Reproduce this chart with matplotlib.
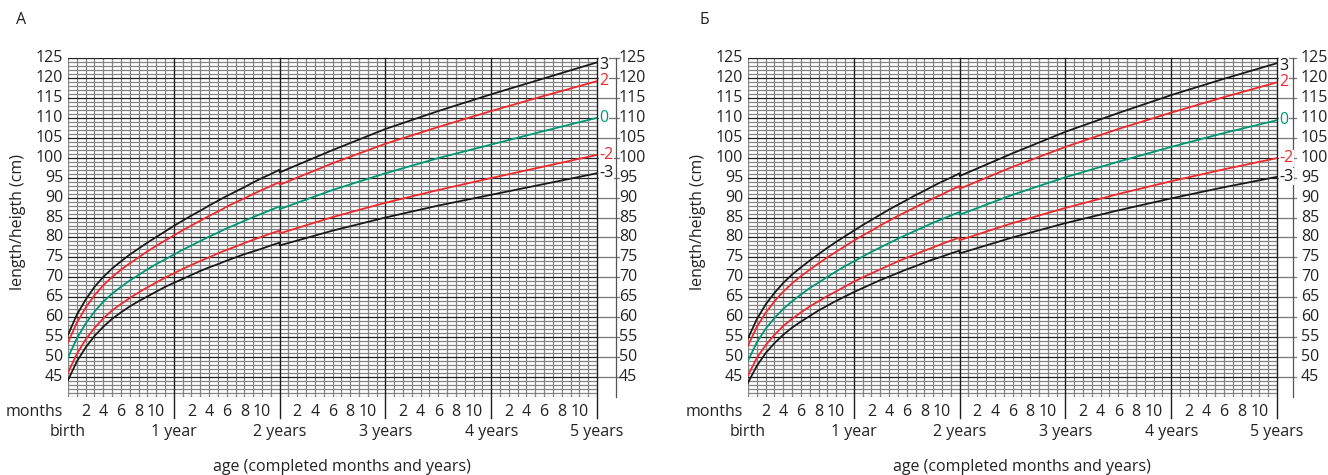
import matplotlib
matplotlib.use("Agg")
import matplotlib.pyplot as plt

# ages in months; 24 is repeated (length -> height switch)
ages = list(range(0, 25)) + [24, 30, 36, 42, 48, 54, 60]

# panel A (boys), z-score curves, cm
boys_p3 = [55.6, 60.6, 64.4, 67.6, 70.1, 72.2, 74.0, 75.7, 77.2, 78.7, 80.1, 81.5, 82.9,
           84.2, 85.5, 86.7, 88.0, 89.2, 90.4, 91.5, 92.6, 93.8, 94.9, 95.9, 97.0,
           96.3, 101.9, 107.2, 111.7, 115.9, 119.9, 123.9]
boys_p2 = [53.7, 58.6, 62.4, 65.5, 68.0, 70.1, 71.9, 73.5, 75.0, 76.5, 77.9, 79.2, 80.5,
           81.8, 83.0, 84.2, 85.4, 86.5, 87.7, 88.8, 89.8, 90.9, 91.9, 92.9, 93.9,
           93.2, 98.6, 103.5, 107.7, 111.7, 115.5, 119.2]
boys_0 = [49.9, 54.7, 58.4, 61.4, 63.9, 65.9, 67.6, 69.2, 70.6, 72.0, 73.3, 74.5, 75.7,
          76.9, 78.0, 79.1, 80.2, 81.2, 82.3, 83.2, 84.2, 85.1, 86.0, 86.9, 87.8,
          87.1, 91.9, 96.1, 99.9, 103.3, 106.7, 110.0]
boys_m2 = [46.1, 50.8, 54.4, 57.3, 59.7, 61.7, 63.3, 64.8, 66.2, 67.5, 68.7, 69.9, 71.0,
           72.1, 73.1, 74.1, 75.0, 76.0, 76.9, 77.7, 78.6, 79.4, 80.2, 81.0, 81.7,
           81.0, 85.1, 88.7, 91.9, 94.9, 97.8, 100.7]
boys_m3 = [44.2, 48.9, 52.4, 55.3, 57.6, 59.6, 61.2, 62.7, 64.0, 65.2, 66.4, 67.6, 68.6,
           69.6, 70.6, 71.6, 72.5, 73.3, 74.2, 75.0, 75.8, 76.5, 77.2, 78.0, 78.7,
           78.0, 81.7, 85.0, 88.0, 90.7, 93.4, 96.1]

# panel Б (girls)
girls_p3 = [54.7, 59.5, 63.2, 66.1, 68.6, 70.7, 72.5, 74.2, 75.8, 77.4, 78.9, 80.3, 81.7,
            83.1, 84.4, 85.7, 87.0, 88.2, 89.4, 90.6, 91.7, 92.9, 94.0, 95.0, 96.1,
            95.4, 101.1, 106.5, 111.2, 115.7, 119.8, 123.7]
girls_p2 = [52.9, 57.6, 61.1, 64.0, 66.4, 68.5, 70.3, 71.9, 73.5, 75.0, 76.4, 77.8, 79.2,
            80.5, 81.7, 83.0, 84.2, 85.4, 86.5, 87.6, 88.7, 89.8, 90.8, 91.9, 92.9,
            92.2, 97.7, 102.7, 107.2, 111.3, 115.2, 118.9]
girls_0 = [49.1, 53.7, 57.1, 59.8, 62.1, 64.0, 65.7, 67.3, 68.7, 70.1, 71.5, 72.8, 74.0,
           75.2, 76.4, 77.5, 78.6, 79.7, 80.7, 81.7, 82.7, 83.7, 84.6, 85.5, 86.4,
           85.7, 90.7, 95.1, 99.0, 102.7, 106.2, 109.4]
girls_m2 = [45.4, 49.8, 53.0, 55.6, 57.8, 59.6, 61.2, 62.7, 64.0, 65.3, 66.5, 67.7, 68.9,
            70.0, 71.0, 72.0, 73.0, 74.0, 74.9, 75.8, 76.7, 77.5, 78.4, 79.2, 80.0,
            79.3, 83.6, 87.4, 90.9, 94.1, 97.1, 99.9]
girls_m3 = [43.6, 47.8, 51.0, 53.5, 55.6, 57.4, 58.9, 60.3, 61.7, 62.9, 64.1, 65.2, 66.3,
            67.3, 68.3, 69.3, 70.2, 71.1, 72.0, 72.8, 73.7, 74.5, 75.2, 76.0, 76.7,
            76.0, 80.0, 83.6, 86.8, 89.8, 92.6, 95.2]

z_labels = ["3", "2", "0", "-2", "-3"]
z_colors = ["#1a1a1a", "#ee2a2f", "#009874", "#ee2a2f", "#1a1a1a"]
year_labels = ["birth", "1 year", "2 years", "3 years", "4 years", "5 years"]
month_ticks = [2, 4, 6, 8, 10]
cm_ticks = list(range(45, 130, 5))

W, H = 1328, 475
FONT = "Open Sans"
FS = 11.5
plt.rcParams["font.family"] = FONT

fig = plt.figure(figsize=(W / 100, H / 100), dpi=100)

TOP, BOT = 58, 397
GW = 529
ppm = GW / 60.0
ppc = (BOT - TOP) / 85.0


def draw_panel(gx, box_w, tick_gap, label_px, panel_name, curves):
    ax = fig.add_axes([gx / W, 1 - BOT / H, GW / W, (BOT - TOP) / H])
    ax.set_xlim(0, 60)
    ax.set_ylim(40, 125)
    ax.axis("off")
    bx = 60 + box_w / ppm

    # 1 cm lines
    for v in range(40, 126):
        if v % 5:
            ax.plot([0, 60], [v, v], color="#858585", lw=0.9, zorder=1)
    ax.plot([0, 60], [40, 40], color="#858585", lw=0.9, zorder=1)
    # monthly lines
    for m in range(0, 60):
        if m % 12 or m == 0:
            ax.plot([m, m], [40, 125], color="#858585", lw=0.9, zorder=1)
    # 5 cm lines, plus the box on the right
    for v in cm_ticks:
        ax.plot([0, 60], [v, v], color="#1e1e1e", lw=0.9, zorder=2)
        ax.plot([60, bx + 3 / ppm], [v, v], color="#777777", lw=0.9, zorder=2,
                clip_on=False)
    ax.plot([bx, bx], [40, 125], color="#555555", lw=0.9, zorder=2, clip_on=False)
    # year lines, running down past the grid
    for y in range(1, 6):
        ax.plot([12 * y, 12 * y], [40 - 21 / ppc, 125], color="#1e1e1e", lw=1.0,
                zorder=2, clip_on=False)

    for vals, lab, col in zip(curves, z_labels, z_colors):
        ax.plot(ages, vals, color=col, lw=1.3, zorder=3)
        yv = vals[-1] - (0.6 if lab == "3" else 0)
        ax.text(60 + 2 / ppm, yv, lab, ha="left", va="center", color=col, fontsize=FS,
                zorder=5, clip_on=False,
                bbox=dict(fc="white", ec="none", pad=0.3))

    for v in cm_ticks:
        ax.text(-5 / ppm, v, str(v), ha="right", va="center", fontsize=FS, color="#222222")
        ax.text(bx + tick_gap / ppm, v, str(v), ha="left", va="center", fontsize=FS,
                color="#222222")

    y_months = 40 - 15 / ppc
    y_years = 40 - 35 / ppc
    ax.text(-5 / ppm, y_months, "months", ha="right", va="center", fontsize=FS,
            color="#222222")
    for y in range(5):
        for m in month_ticks:
            ax.text(12 * y + m, y_months, str(m), ha="center", va="center", fontsize=FS,
                    color="#222222")
    for y, lab in enumerate(year_labels):
        ax.text(12 * y, y_years, lab, ha="center", va="center", fontsize=FS,
                color="#222222")

    fig.text((gx + 274) / W, 1 - 467 / H, "age (completed months and years)",
             ha="center", va="center", fontsize=FS, color="#222222")
    fig.text((gx - 50) / W, 1 - 222 / H, "length/heigth (cm)", rotation=90,
             ha="center", va="center", fontsize=FS, color="#222222")
    fig.text(label_px / W, 1 - 20 / H, panel_name, ha="center", va="center",
             fontsize=11.5, color="#222222")


draw_panel(68, 19, 3, 21, "А", [boys_p3, boys_p2, boys_0, boys_m2, boys_m3])
draw_panel(748, 16, 8, 704, "Б", [girls_p3, girls_p2, girls_0, girls_m2, girls_m3])

fig.savefig("out.png", dpi=100, facecolor="white")
